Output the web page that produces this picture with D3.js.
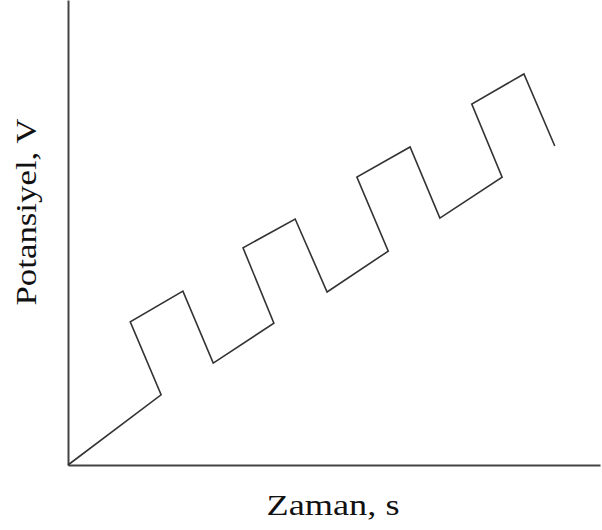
<!DOCTYPE html>
<html>
<head>
<meta charset="utf-8">
<script src="https://cdn.jsdelivr.net/npm/d3@7"></script>
<style>
  body { margin: 0; background: #fff; }
  svg { display: block; }
</style>
</head>
<body>
<script>
// size of the page
var width = 602;
var height = 530;

// potential vs time, abstract units (no ticks on the original)
var timeVals = [0, 17.5, 11.7, 21.6, 27.3, 38.7, 32.9, 42.7, 48.7, 60.2, 54.3, 64.3, 69.9, 81.6, 75.9, 85.7, 91.5];
var potVals  = [0, 15.1, 30.8, 37.4, 21.9, 30.5, 46.7, 52.9, 37.2, 46.0, 61.9, 68.4, 53.1, 61.9, 77.6, 84.1, 68.6];

var xLabel = "Zaman, s";
var yLabel = "Potansiyel, V";

var x0 = 68, y0 = 465;   // where the axes meet

var x = d3.scaleLinear().domain([0, 100]).range([x0, 600]);
var y = d3.scaleLinear().domain([0, 100]).range([y0, 0]);

var svg = d3.select("body")
            .append("svg")
            .attr("width", width)
            .attr("height", height);

// axes, plain lines with no ticks
svg.append("g")
   .attr("transform", "translate(0," + y0 + ")")
   .call(d3.axisBottom(x).tickValues([]).tickSizeOuter(0))
   .call(function(g) { g.select(".domain").attr("stroke", "#444").attr("stroke-width", 2); });

svg.append("g")
   .attr("transform", "translate(" + x0 + ",0)")
   .call(d3.axisLeft(y).tickValues([]).tickSizeOuter(0))
   .call(function(g) { g.select(".domain").attr("stroke", "#444").attr("stroke-width", 2); });

var points = timeVals.map(function(t, i) { return [t, potVals[i]]; });

var line = d3.line()
             .x(function(d) { return x(d[0]); })
             .y(function(d) { return y(d[1]); });

svg.append("path")
   .datum(points)
   .attr("d", line)
   .attr("fill", "none")
   .attr("stroke", "#333")
   .attr("stroke-width", 1.6)
   .attr("stroke-linejoin", "miter");

// axis titles
svg.append("text")
   .attr("x", 333)
   .attr("y", 515)
   .attr("text-anchor", "middle")
   .attr("textLength", 133)
   .attr("lengthAdjust", "spacingAndGlyphs")
   .style("font-family", "'Liberation Serif', 'Times New Roman', serif")
   .style("font-size", "30px")
   .style("fill", "#111")
   .text(xLabel);

svg.append("text")
   .attr("transform", "translate(36,212) rotate(-90)")
   .attr("text-anchor", "middle")
   .attr("textLength", 187)
   .attr("lengthAdjust", "spacingAndGlyphs")
   .style("font-family", "'Liberation Serif', 'Times New Roman', serif")
   .style("font-size", "30px")
   .style("fill", "#111")
   .text(yLabel);
</script>
</body>
</html>
